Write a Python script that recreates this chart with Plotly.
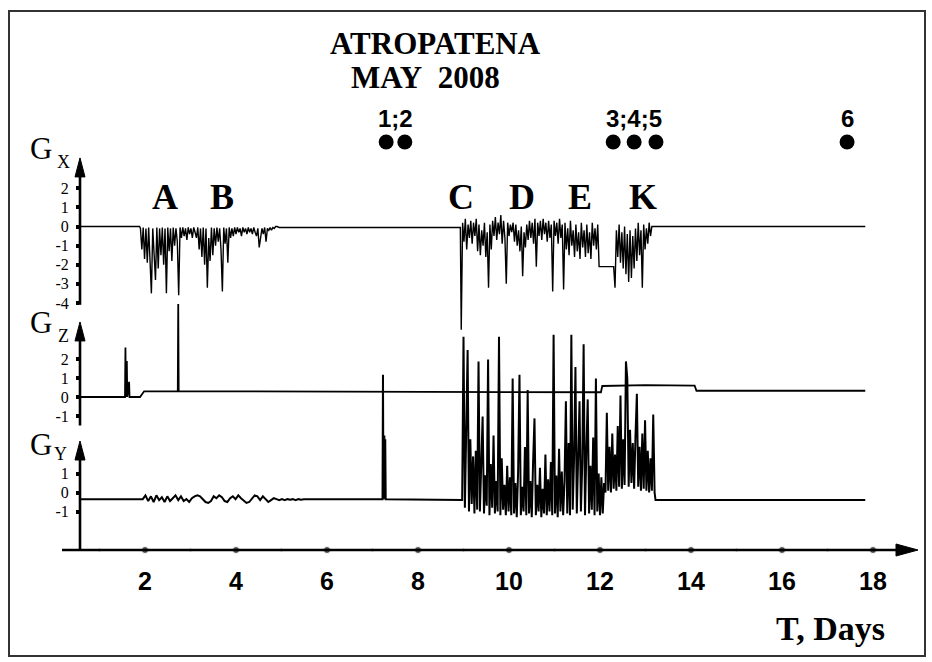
import plotly.graph_objects as go

# ---------------- data ----------------
DAY_TICKS = [2, 4, 6, 8, 10, 12, 14, 16, 18]
DOT_DAYS = list(range(1, 19))

# Gx : noisy bursts A-B, C-E, K
GX_AB_T0, GX_AB_DT = 1.90, 0.03
GX_AB = [-0.1, -1.2, -0.05, -1.7, -0.1, -1.9, -0.05, -1.4, -3.5, -0.1,
         -1.6, -2.8, -0.05, -2.2, -0.1, -1.5, -0.05, -2.0, -0.1, -3.5,
         -0.05, -1.3, -0.1, -1.8, -0.05, -1.0, -0.1, -0.8, -3.6, -0.05,
         -0.6, -0.05, -0.5, -0.1, -0.7, -0.05, -0.4, -0.1, -0.6, -0.05,
         -0.3, -0.6, -0.05, -1.2, -0.1, -1.6, -0.05, -2.0, -0.1, -3.2,
         -0.6, -1.8, -0.05, -1.5, -0.1, -1.0, -0.05, -0.8, -0.1, -1.2,
         -3.4, -0.05, -0.9, -0.1, -1.9, -0.05, -0.6, -0.1, -0.5, -0.05,
         -0.4, -0.05, -0.3, -0.1, -0.5, -0.05, -0.3, -0.1, -0.4, -0.05,
         -0.3, -0.1, -0.4, -0.05, -0.3, -0.5, -0.1, -1.1, -0.6, -0.1,
         -0.4, -0.05, -0.8, -0.1, -0.2, -0.05, -0.2, -0.05, -0.1, 0.0,
         0.0]
GX_CE_T0, GX_CE_DT = 8.95, 0.03
GX_CE = [-5.4, 0.2, -0.8, 0.4, -1.2, 0.1, -0.6, 0.3, -0.9, 0.2,
         -0.5, 0.4, -1.3, 0.1, -1.5, -0.2, -1.0, 0.2, -1.6, -0.3,
         -3.2, 0.1, -1.2, 0.3, -0.5, 0.5, -0.7, 0.2, -0.4, 0.6,
         -0.9, 0.3, -0.6, -3.0, 0.2, -0.5, 0.1, -0.3, 0.2, -0.8,
         0.1, -1.0, -0.2, -1.3, 0.0, -2.6, -0.3, -1.1, 0.1, -0.7,
         0.3, -0.6, 0.2, -0.9, 0.4, -2.1, 0.2, -0.5, 0.3, -0.7,
         0.4, -0.4, 0.2, -0.8, 0.3, -0.6, 0.1, -3.4, 0.3, -0.5,
         0.2, -0.9, 0.4, -0.6, 0.1, -3.3, 0.2, -1.2, -0.1, -1.5,
         0.3, -1.0, -0.2, -1.6, 0.1, -1.3, -0.3, -1.7, 0.2, -1.1,
         -0.2, -1.6, 0.1, -1.4, -0.3, -1.7, 0.2, -1.0, -0.1, -1.2,
         0.1]
GX_STEP_LEVEL = -2.1
GX_K_T0, GX_K_DT = 12.33, 0.03
GX_K = [-3.2, -0.2, -1.6, 0.1, -1.9, -0.3, -2.2, 0.0, -2.5, -0.4,
        -2.9, -0.2, -2.7, -0.5, -2.2, -0.1, -1.8, 0.2, -1.5, -0.2,
        -3.2, 0.1, -1.2, -0.1, -0.9, 0.2, -0.5, 0.0]

# Gz : mostly a level line with a few spikes
GZ_T = [0.57, 1.56, 1.57, 1.58, 1.60, 1.61, 1.65, 1.66, 1.89, 1.98,
        2.72, 2.73, 2.74, 9.0, 12.02, 12.05, 13.0, 14.08, 14.12, 17.83]
GZ_V = [0.0, 0.0, 2.6, 0.0, 1.9, 0.0, 0.8, 0.0, 0.0, 0.3,
        0.3, 4.9, 0.3, 0.25, 0.25, 0.58, 0.62, 0.6, 0.33, 0.33]

# Gy
GY_AB_T0, GY_AB_DT = 1.95, 0.06
GY_AB = [-0.35, -0.15, -0.45, -0.2, -0.5, -0.15, -0.4, -0.25, -0.5, -0.2,
         -0.45, -0.3, -0.15, -0.4, -0.2, -0.45, -0.35, -0.5, -0.3, -0.2,
         -0.15, -0.2, -0.35, -0.5, -0.55, -0.45, -0.2, -0.3, -0.15, -0.25,
         -0.45, -0.5, -0.3, -0.2, -0.35, -0.15, -0.3, -0.45, -0.55, -0.5,
         -0.3, -0.15, -0.2, -0.4, -0.2, -0.35, -0.5, -0.4, -0.3, -0.35,
         -0.4, -0.35, -0.4, -0.35, -0.38, -0.35, -0.4, -0.35, -0.38, -0.35,
         -0.35, -0.35]
GY_MID_T = [5.66, 7.22, 7.23, 7.24, 7.26, 7.27, 7.28, 7.29, 8.97]
GY_MID_V = [-0.35, -0.35, 6.2, -0.35, 3.0, -0.35, 2.8, -0.35, -0.4]
GY_CE_T0, GY_CE_DT = 9.00, 0.03
GY_CE = [8.2, -0.8, 2.5, 7.5, -1.0, 2.8, -0.6, 1.9, -1.1, 2.2,
         -0.9, 6.9, -1.0, 1.2, 4.0, -1.1, 0.9, -0.7, 7.0, -1.2,
         1.5, -0.8, 3.0, -1.1, 0.6, -1.0, 8.2, -1.2, 1.8, -0.9,
         0.4, -1.2, 1.4, -1.0, 0.8, -1.2, 6.0, -1.1, 0.5, -1.3,
         1.1, 6.2, -1.2, 0.3, -1.0, 2.4, -1.2, 5.4, -1.1, 0.6,
         -1.3, 1.7, 3.9, -1.2, 0.4, -1.0, 1.3, -1.3, 0.2, -1.1,
         2.0, -1.2, 0.7, -1.0, 1.6, -1.2, 8.3, -1.1, 0.9, -1.3,
         2.3, -1.0, 1.1, -1.2, 0.6, 4.8, -1.1, 2.6, -1.2, 8.3,
         -0.9, 1.8, 6.6, -1.1, 2.1, 4.8, -1.0, 1.5, 7.8, -1.2,
         2.2, 4.9, -1.1, 1.4, -0.9, 2.9, -1.2, 6.0, -1.0, 1.0,
         -1.2, 0.8, -1.1, 0.5]
GY_K_T0, GY_K_DT = 12.12, 0.03
GY_K = [0.0, 4.2, 0.1, 2.4, 0.0, 3.1, 0.2, 2.0, 0.1, 3.5,
        0.3, 5.1, 0.2, 2.8, 0.4, 6.9, 6.0, 0.3, 3.3, 0.5,
        2.6, 0.2, 3.0, 5.2, 0.3, 2.4, 0.1, 3.1, 0.2, 3.8,
        0.1, 2.2, 0.0, 1.8, 0.1, 4.1, 0.0]
GY_END_T = [13.22, 17.83]
GY_END_V = [-0.4, -0.4]

# events and labels
EVENT_DAYS = [7.30, 7.71, 12.29, 12.75, 13.23, 17.43]
EVENT_LABELS = ["1;2", "3;4;5", "6"]
EVENT_LABEL_DAYS = [7.50, 12.75, 17.43]
LETTERS = ["A", "B", "C", "D", "E", "K"]
LETTER_DAYS = [2.44, 3.69, 8.95, 10.29, 11.56, 12.95]

GX_TICKS = [-4, -3, -2, -1, 0, 1, 2]
GZ_TICKS = [-1, 0, 1, 2]
GY_TICKS = [-1, 0, 1]


def sampled(t0, dt, vals):
    return [round(t0 + i * dt, 4) for i in range(len(vals))], list(vals)


ab_t, ab_v = sampled(GX_AB_T0, GX_AB_DT, GX_AB)
ce_t, ce_v = sampled(GX_CE_T0, GX_CE_DT, GX_CE)
k_t, k_v = sampled(GX_K_T0, GX_K_DT, GX_K)
gx_t = [0.57, 1.88] + ab_t + [4.95, 8.93] + ce_t + [11.98, 12.30] + k_t + [13.18, 17.83]
gx_v = [0.0, 0.0] + ab_v + [-0.05, -0.05] + ce_v + [GX_STEP_LEVEL, GX_STEP_LEVEL] + k_v + [0.0, 0.0]

yab_t, yab_v = sampled(GY_AB_T0, GY_AB_DT, GY_AB)
yce_t, yce_v = sampled(GY_CE_T0, GY_CE_DT, GY_CE)
yk_t, yk_v = sampled(GY_K_T0, GY_K_DT, GY_K)
gy_t = [0.57, 1.93] + yab_t + GY_MID_T + yce_t + yk_t + GY_END_T
gy_v = [-0.35, -0.35] + yab_v + GY_MID_V + yce_v + yk_v + GY_END_V

# ---------------- layout geometry ----------------
W, H = 932, 662
PL, PR, PT, PB = 80, 915, 130, 550
X_RANGE = [0.571, 18.923]
GX_RANGE = [-16.937, 5.052]
GZ_RANGE = [-8.053, 14.053]
GY_RANGE = [-3.026, 19.079]


def pxx(px):
    return (px - PL) / (PR - PL)


def pxy(py):
    return (PB - py) / (PB - PT)


SERIF = "Liberation Serif, Times New Roman, serif"
SANS = "Liberation Sans, Arial, sans-serif"

fig = go.Figure()
fig.add_trace(go.Scatter(x=gx_t, y=gx_v, mode="lines", yaxis="y",
                         line=dict(color="black", width=1.4), hoverinfo="skip"))
fig.add_trace(go.Scatter(x=GZ_T, y=GZ_V, mode="lines", yaxis="y2",
                         line=dict(color="black", width=1.8), hoverinfo="skip"))
fig.add_trace(go.Scatter(x=gy_t, y=gy_v, mode="lines", yaxis="y3",
                         line=dict(color="black", width=2.0), hoverinfo="skip"))
# event dots
fig.add_trace(go.Scatter(x=EVENT_DAYS, y=[4.42] * len(EVENT_DAYS), mode="markers", yaxis="y",
                         marker=dict(color="black", size=15), cliponaxis=False, hoverinfo="skip"))
# x-axis dots
fig.add_trace(go.Scatter(x=DOT_DAYS, y=[GY_RANGE[0]] * len(DOT_DAYS), mode="markers", yaxis="y3",
                         marker=dict(color="black", size=[7 if d % 2 == 0 else 3.5 for d in DOT_DAYS]),
                         cliponaxis=False, hoverinfo="skip"))

yax_common = dict(showgrid=False, zeroline=False, showline=False, ticks="outside",
                  ticklen=3, tickwidth=4, tickcolor="black",
                  tickfont=dict(family=SERIF, size=16, color="black"), ticklabelstandoff=4,
                  fixedrange=True)

fig.update_layout(
    width=W, height=H,
    margin=dict(l=PL, r=W - PR, t=PT, b=H - PB),
    paper_bgcolor="white", plot_bgcolor="white", showlegend=False,
    xaxis=dict(range=X_RANGE, showgrid=False, zeroline=False, showline=False, ticks="",
               tickvals=DAY_TICKS, ticktext=[f"<b>{d}</b>" for d in DAY_TICKS],
               tickfont=dict(family=SANS, size=25, color="black"), ticklabelstandoff=14,
               fixedrange=True),
    yaxis=dict(range=GX_RANGE, tickvals=GX_TICKS, ticktext=[str(v) for v in GX_TICKS], **yax_common),
    yaxis2=dict(range=GZ_RANGE, overlaying="y", side="left", tickvals=GZ_TICKS,
                ticktext=[str(v) for v in GZ_TICKS], **yax_common),
    yaxis3=dict(range=GY_RANGE, overlaying="y", side="left", tickvals=GY_TICKS,
                ticktext=[str(v) for v in GY_TICKS], **yax_common),
)

shapes = []
# frame
shapes.append(dict(type="rect", xref="paper", yref="paper", x0=pxx(9), x1=pxx(925), y0=pxy(656), y1=pxy(11),
                   line=dict(color="#333", width=2), layer="below"))
# axis lines
AXW = 2.6
shapes.append(dict(type="line", xref="paper", yref="y", x0=0, x1=0, y0=-4.1, y1=3.0, line=dict(color="black", width=AXW)))
shapes.append(dict(type="line", xref="paper", yref="y2", x0=0, x1=0, y0=-1.5, y1=3.3, line=dict(color="black", width=AXW)))
shapes.append(dict(type="line", xref="paper", yref="y3", x0=0, x1=0, y0=GY_RANGE[0], y1=2.0, line=dict(color="black", width=AXW)))
shapes.append(dict(type="line", xref="paper", yref="paper", x0=pxx(62), x1=pxx(905), y0=0, y1=0, line=dict(color="black", width=AXW)))
# arrow heads (pixel-sized paths)
up_head = "M 0,0 L -5,-19 L 5,-19 Z"
for yref, ytip in (("y", 3.59), ("y2", 3.95), ("y3", 2.71)):
    shapes.append(dict(type="path", xref="paper", xsizemode="pixel", xanchor=0,
                       yref=yref, ysizemode="pixel", yanchor=ytip, path=up_head,
                       fillcolor="black", line=dict(color="black", width=1)))
shapes.append(dict(type="path", xref="paper", xsizemode="pixel", xanchor=pxx(918),
                   yref="paper", ysizemode="pixel", yanchor=0, path="M 0,0 L -22,6 L -22,-6 Z",
                   fillcolor="black", line=dict(color="black", width=1)))
fig.update_layout(shapes=shapes)

ann = []


def label(text, x, y, size, family, xref="paper"):
    ann.append(dict(text=text, x=x, y=y, xref=xref, yref="paper", showarrow=False,
                    xanchor="center", yanchor="middle",
                    font=dict(family=family, size=size, color="black")))


label("<b>ATROPATENA</b>", pxx(435), pxy(43), 31, SERIF)
label("<b>MAY\u00a0\u00a02008</b>", pxx(425), pxy(77), 31, SERIF)
for lab, d in zip(EVENT_LABELS, EVENT_LABEL_DAYS):
    label(f"<b>{lab}</b>", d, pxy(118), 24, SANS, xref="x")
for lab, d in zip(LETTERS, LETTER_DAYS):
    label(f"<b>{lab}</b>", d, pxy(197), 36, SERIF, xref="x")
for sub, gy, sy, sx in (("X", 149, 162, 63), ("Z", 322, 336, 63), ("Y", 444, 454, 60)):
    label("G", pxx(41), pxy(gy), 31, SERIF)
    label(sub, pxx(sx), pxy(sy), 18, SERIF)
label("<b>T, Days</b>", pxx(830), pxy(628), 34, SERIF)
fig.update_layout(annotations=ann)

fig.write_html("out.html", config={"displayModeBar": False},
               post_script="document.body.style.margin='0px';")
